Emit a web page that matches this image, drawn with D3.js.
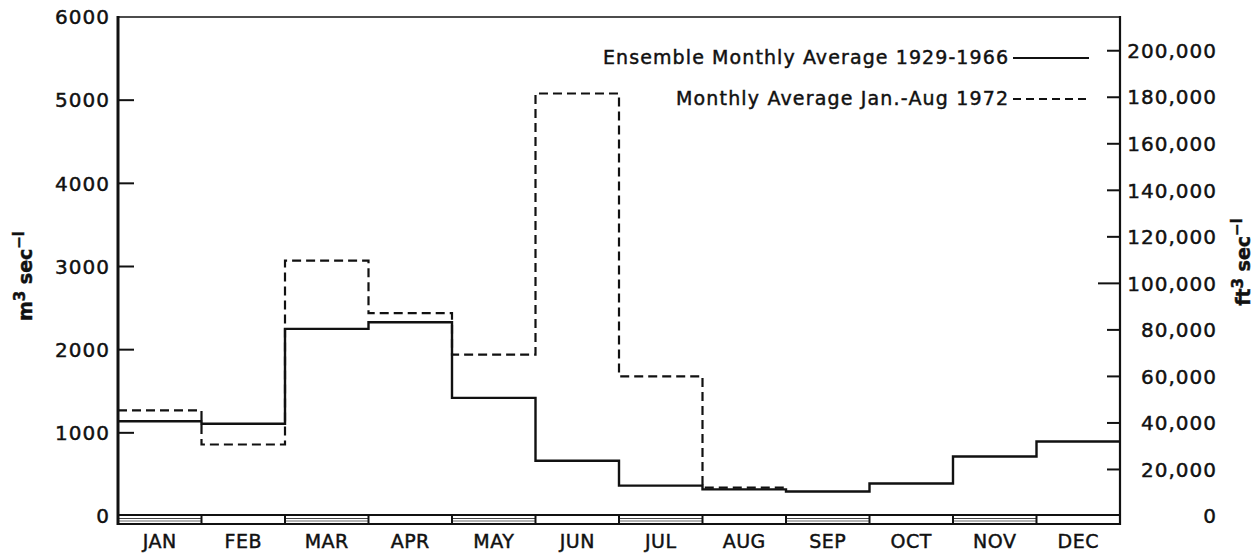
<!DOCTYPE html>
<html>
<head>
<meta charset="utf-8">
<script src="https://cdn.jsdelivr.net/npm/d3@7"></script>
<style>
  html, body { margin: 0; padding: 0; background: #fff; }
  svg { display: block; }
  text { font-family: "DejaVu Sans", sans-serif; fill: #111; stroke: #111; stroke-width: 0.45; }
</style>
</head>
<body>
<svg id="chart" width="1258" height="553"></svg>
<script>
// ---- data ----
const months = ["JAN","FEB","MAR","APR","MAY","JUN","JUL","AUG","SEP","OCT","NOV","DEC"];
const ensemble1929_1966 = [1140, 1110, 2250, 2330, 1420, 665, 365, 320, 295, 390, 715, 895];
const monthly1972 = [1270, 860, 3070, 2440, 1940, 5080, 1680, 340];
const leftTicks = [0, 1000, 2000, 3000, 4000, 5000, 6000];
const rightTicks = [0, 20000, 40000, 60000, 80000, 100000, 120000, 140000, 160000, 180000, 200000];
const leftMax = 6000;
const rightMax = 214500;   // ft3/s equivalent of 6000 m3/s on the right scale
const legendLabels = ["Ensemble Monthly Average 1929-1966", "Monthly Average Jan.-Aug 1972"];

// ---- layout ----
const svg = d3.select("#chart");
const X0 = 118, X1 = 1120, Y0 = 516, Y1 = 17;
const x = d3.scaleLinear().domain([0, months.length]).range([X0, X1]);
const y = d3.scaleLinear().domain([0, leftMax]).range([Y0, Y1]);
const y2 = d3.scaleLinear().domain([0, rightMax]).range([Y0, Y1]);

svg.append("rect").attr("width", 1258).attr("height", 553).attr("fill", "#fff");

// bottom strip with alternating months
const stripTop = 515, stripBot = 524;
const strip = svg.append("g");
months.forEach((m, i) => {
  if (i % 2 === 0) {
    strip.append("line").attr("x1", x(i)).attr("x2", x(i + 1))
      .attr("y1", 518.5).attr("y2", 518.5).attr("stroke", "#444").attr("stroke-width", 1);
    strip.append("line").attr("x1", x(i)).attr("x2", x(i + 1))
      .attr("y1", 521).attr("y2", 521).attr("stroke", "#666").attr("stroke-width", 1);
  }
  strip.append("line").attr("x1", x(i)).attr("x2", x(i))
    .attr("y1", stripTop).attr("y2", stripBot).attr("stroke", "#111").attr("stroke-width", 2);
});
strip.append("line").attr("x1", X0).attr("x2", X1).attr("y1", stripTop).attr("y2", stripTop)
  .attr("stroke", "#111").attr("stroke-width", 2);
strip.append("line").attr("x1", X0).attr("x2", X1).attr("y1", stripBot).attr("y2", stripBot)
  .attr("stroke", "#111").attr("stroke-width", 2);

// frame: left axis, top, right axis
svg.append("line").attr("x1", X0).attr("x2", X0).attr("y1", Y1 - 1).attr("y2", stripBot + 1)
  .attr("stroke", "#111").attr("stroke-width", 3);
svg.append("line").attr("x1", X0).attr("x2", X1).attr("y1", Y1).attr("y2", Y1)
  .attr("stroke", "#111").attr("stroke-width", 1.6);
svg.append("line").attr("x1", X1).attr("x2", X1).attr("y1", Y1 - 1).attr("y2", stripBot + 1)
  .attr("stroke", "#111").attr("stroke-width", 2.2);

// left axis ticks and labels
const leftAxis = svg.append("g");
leftTicks.forEach(t => {
  if (t > 0 && t < leftMax) {
    leftAxis.append("line").attr("x1", X0).attr("x2", X0 + 16)
      .attr("y1", y(t)).attr("y2", y(t)).attr("stroke", "#111").attr("stroke-width", 2);
  }
  leftAxis.append("text").attr("x", 110).attr("y", y(t)).attr("dy", "0.36em")
    .attr("text-anchor", "end").attr("font-size", 20).attr("letter-spacing", 1)
    .text(d3.format("d")(t));
});

// right axis ticks and labels
const rightAxis = svg.append("g");
rightTicks.forEach(t => {
  if (t > 0) {
    const len = t === 100000 ? 22 : 13;
    rightAxis.append("line").attr("x1", X1 - len).attr("x2", X1)
      .attr("y1", y2(t)).attr("y2", y2(t)).attr("stroke", "#111").attr("stroke-width", 2);
  }
  rightAxis.append("text").attr("x", 1217).attr("y", y2(t)).attr("dy", "0.36em")
    .attr("text-anchor", "end").attr("font-size", 20).attr("letter-spacing", 1)
    .text(d3.format(",")(t));
});

// month labels
svg.append("g").selectAll("text").data(months).join("text")
  .attr("x", (d, i) => x(i + 0.5)).attr("y", 548)
  .attr("text-anchor", "middle").attr("font-size", 19).attr("letter-spacing", 0.5)
  .text(d => d);

// axis titles
const lt = svg.append("text").attr("transform", "translate(32,276) rotate(-90)")
  .attr("text-anchor", "middle").attr("font-size", 19).attr("font-weight", "bold");
lt.append("tspan").text("m");
lt.append("tspan").attr("dy", -7).attr("font-size", 15).text("3");
lt.append("tspan").attr("dy", 7).text(" sec");
lt.append("tspan").attr("dy", -8).attr("font-size", 15).text("\u2212l");

const rt = svg.append("text").attr("transform", "translate(1250,262) rotate(-90)")
  .attr("text-anchor", "middle").attr("font-size", 19).attr("font-weight", "bold");
rt.append("tspan").text("ft");
rt.append("tspan").attr("dy", -7).attr("font-size", 15).text("3");
rt.append("tspan").attr("dy", 7).text(" sec");
rt.append("tspan").attr("dy", -8).attr("font-size", 15).text("\u2212l");

// series (step lines)
const step = d3.line().x(d => x(d[0])).y(d => y(d[1])).curve(d3.curveStepAfter);
function stepPoints(vals) {
  const pts = vals.map((v, i) => [i, v]);
  pts.push([vals.length, vals[vals.length - 1]]);
  return pts;
}
svg.append("path").attr("d", step(stepPoints(monthly1972)))
  .attr("fill", "none").attr("stroke", "#111").attr("stroke-width", 2.2)
  .attr("stroke-dasharray", "9,5");
svg.append("path").attr("d", step(stepPoints(ensemble1929_1966)))
  .attr("fill", "none").attr("stroke", "#111").attr("stroke-width", 2.4);

// legend
const legY = [57, 98];
const legWidths = [405, 332];
legendLabels.forEach((lab, i) => {
  svg.append("text").attr("x", 1008).attr("y", legY[i]).attr("dy", "0.36em")
    .attr("text-anchor", "end").attr("font-size", 19)
    .attr("textLength", legWidths[i]).attr("lengthAdjust", "spacing")
    .text(lab);
  svg.append("line").attr("x1", 1013).attr("x2", 1089).attr("y1", legY[i] + 1).attr("y2", legY[i] + 1)
    .attr("stroke", "#111").attr("stroke-width", 2)
    .attr("stroke-dasharray", i === 1 ? "8,5" : null);
});
</script>
</body>
</html>
